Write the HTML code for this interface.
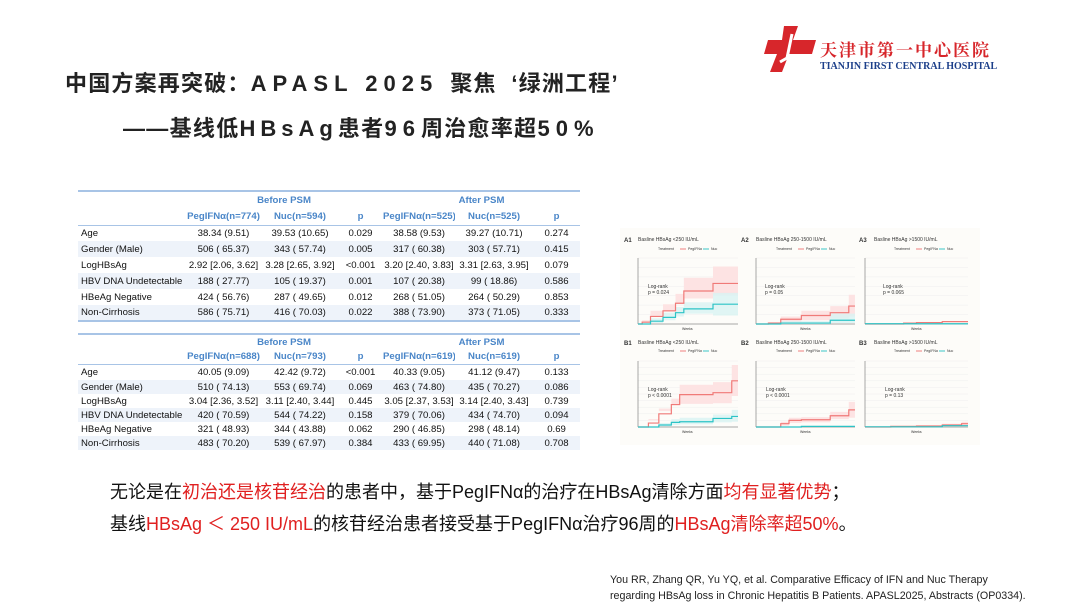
<!DOCTYPE html>
<html><head><meta charset="utf-8"><style>
*{margin:0;padding:0;box-sizing:border-box}
body{width:1080px;height:608px;background:#fff;position:relative;overflow:hidden;font-family:"Liberation Sans","Noto Sans CJK SC",sans-serif;color:#222}
.a{position:absolute;white-space:nowrap}
table{position:absolute;border-collapse:collapse;font-size:9.6px;color:#111;table-layout:fixed}
td{text-align:center;padding:0;overflow:hidden;white-space:nowrap}
td:first-child{text-align:left;padding-left:3px}
tr.h td{color:#4a86c8;font-weight:bold}
tr.s td{background:#eef3fa}
.l{letter-spacing:5px}
</style></head><body>

<div class="a" style="left:65px;top:66px;font-size:22px;font-weight:bold;letter-spacing:1.2px">中国方案再突破：<span class="l" style="letter-spacing:6px">APASL 2025 </span> 聚焦 &nbsp;‘绿洲工程’</div>
<div class="a" style="left:123px;top:111px;font-size:22px;font-weight:bold;letter-spacing:1.3px">——基线低<span class="l" style="letter-spacing:5px">HBsAg</span>患者<span class="l" style="letter-spacing:6px">96</span>周治愈率超<span class="l" style="letter-spacing:6px">50%</span></div>

<svg class="a" style="left:762px;top:24px" width="58" height="50" viewBox="0 0 58 50">
<path d="M22 2 H36 L31 16 H54 L50 30 H27 L20 48 H8 L15 30 H2 L6 16 H20 Z" fill="#d7262b"/>
<path d="M30 10 L25 34 L18 38" stroke="#fff" stroke-width="3" fill="none"/>
</svg>
<div class="a" style="left:820px;top:36px;font-size:17px;font-weight:bold;color:#d7262b;font-family:'Noto Serif CJK SC',serif;letter-spacing:2px">天津市第一中心医院</div>
<div class="a" style="left:820px;top:61px;font-size:10px;font-weight:bold;color:#1c3f8a;font-family:'Liberation Serif',serif">TIANJIN FIRST CENTRAL HOSPITAL</div>

<table style="left:78px;top:190px;width:502px;border-top:2px solid #a8c4e6;border-bottom:2px solid #a8c4e6">
<colgroup><col style="width:107px"><col style="width:77px"><col style="width:76px"><col style="width:45px"><col style="width:72px"><col style="width:78px"><col style="width:47px"></colgroup>
<tr class="h" style="height:18px"><td></td><td colspan="3">Before PSM</td><td colspan="3">After PSM</td></tr>
<tr class="h" style="height:16px;border-bottom:1px solid #a8c4e6"><td></td><td>PegIFNα(n=774)</td><td>Nuc(n=594)</td><td>p</td><td>PegIFNα(n=525)</td><td>Nuc(n=525)</td><td>p</td></tr>
<tr style="height:16px"><td>Age</td><td>38.34 (9.51)</td><td>39.53 (10.65)</td><td>0.029</td><td>38.58 (9.53)</td><td>39.27 (10.71)</td><td>0.274</td></tr>
<tr class="s" style="height:16px"><td>Gender (Male)</td><td>506 ( 65.37)</td><td>343 ( 57.74)</td><td>0.005</td><td>317 ( 60.38)</td><td>303 ( 57.71)</td><td>0.415</td></tr>
<tr style="height:16px"><td>LogHBsAg</td><td>2.92 [2.06, 3.62]</td><td>3.28 [2.65, 3.92]</td><td>&lt;0.001</td><td>3.20 [2.40, 3.83]</td><td>3.31 [2.63, 3.95]</td><td>0.079</td></tr>
<tr class="s" style="height:16px"><td>HBV DNA Undetectable</td><td>188 ( 27.77)</td><td>105 ( 19.37)</td><td>0.001</td><td>107 ( 20.38)</td><td>99 ( 18.86)</td><td>0.586</td></tr>
<tr style="height:16px"><td>HBeAg Negative</td><td>424 ( 56.76)</td><td>287 ( 49.65)</td><td>0.012</td><td>268 ( 51.05)</td><td>264 ( 50.29)</td><td>0.853</td></tr>
<tr class="s" style="height:16px"><td>Non-Cirrhosis</td><td>586 ( 75.71)</td><td>416 ( 70.03)</td><td>0.022</td><td>388 ( 73.90)</td><td>373 ( 71.05)</td><td>0.333</td></tr>
</table>

<table style="left:78px;top:333px;width:502px;border-top:2px solid #a8c4e6">
<colgroup><col style="width:107px"><col style="width:77px"><col style="width:76px"><col style="width:45px"><col style="width:72px"><col style="width:78px"><col style="width:47px"></colgroup>
<tr class="h" style="height:15px"><td></td><td colspan="3">Before PSM</td><td colspan="3">After PSM</td></tr>
<tr class="h" style="height:15px;border-bottom:1px solid #a8c4e6"><td></td><td>PegIFNα(n=688)</td><td>Nuc(n=793)</td><td>p</td><td>PegIFNα(n=619)</td><td>Nuc(n=619)</td><td>p</td></tr>
<tr style="height:16px"><td>Age</td><td>40.05 (9.09)</td><td>42.42 (9.72)</td><td>&lt;0.001</td><td>40.33 (9.05)</td><td>41.12 (9.47)</td><td>0.133</td></tr>
<tr class="s" style="height:14px"><td>Gender (Male)</td><td>510 ( 74.13)</td><td>553 ( 69.74)</td><td>0.069</td><td>463 ( 74.80)</td><td>435 ( 70.27)</td><td>0.086</td></tr>
<tr style="height:14px"><td>LogHBsAg</td><td>3.04 [2.36, 3.52]</td><td>3.11 [2.40, 3.44]</td><td>0.445</td><td>3.05 [2.37, 3.53]</td><td>3.14 [2.40, 3.43]</td><td>0.739</td></tr>
<tr class="s" style="height:14px"><td>HBV DNA Undetectable</td><td>420 ( 70.59)</td><td>544 ( 74.22)</td><td>0.158</td><td>379 ( 70.06)</td><td>434 ( 74.70)</td><td>0.094</td></tr>
<tr style="height:14px"><td>HBeAg Negative</td><td>321 ( 48.93)</td><td>344 ( 43.88)</td><td>0.062</td><td>290 ( 46.85)</td><td>298 ( 48.14)</td><td>0.69</td></tr>
<tr class="s" style="height:14px"><td>Non-Cirrhosis</td><td>483 ( 70.20)</td><td>539 ( 67.97)</td><td>0.384</td><td>433 ( 69.95)</td><td>440 ( 71.08)</td><td>0.708</td></tr>
</table>

<svg class="a" style="left:0;top:0" width="1080" height="608" font-family="Liberation Sans,sans-serif">
<rect x="620" y="228" width="360" height="217" fill="#fdfcf9"/>
<g stroke="#eeeeee" stroke-width="0.5">
<path d="M638 314.6H738M638 305.1H738M638 295.7H738M638 286.3H738M638 276.9H738M638 267.4H738M638 258H738"/>
<path d="M756 314.6H855M756 305.1H855M756 295.7H855M756 286.3H855M756 276.9H855M756 267.4H855M756 258H855"/>
<path d="M865 314.6H968M865 305.1H968M865 295.7H968M865 286.3H968M865 276.9H968M865 267.4H968M865 258H968"/>
<path d="M638 420.4H738M638 413.8H738M638 407.2H738M638 400.6H738M638 394H738M638 387.4H738M638 380.8H738M638 374.2H738M638 367.6H738M638 361H738"/>
<path d="M756 420.4H855M756 413.8H855M756 407.2H855M756 400.6H855M756 394H855M756 387.4H855M756 380.8H855M756 374.2H855M756 367.6H855M756 361H855"/>
<path d="M865 420.4H968M865 413.8H968M865 407.2H968M865 400.6H968M865 394H968M865 387.4H968M865 380.8H968M865 374.2H968M865 367.6H968M865 361H968"/>
</g>
<g font-size="5" fill="#333">
<text x="624" y="242" font-weight="bold" font-size="6">A1</text><text x="638" y="241">Basline HBsAg &lt;250 IU/mL</text>
<text x="741" y="242" font-weight="bold" font-size="6">A2</text><text x="756" y="241">Basline HBsAg 250-1500 IU/mL</text>
<text x="859" y="242" font-weight="bold" font-size="6">A3</text><text x="874" y="241">Basline HBsAg &gt;1500 IU/mL</text>
<text x="624" y="345" font-weight="bold" font-size="6">B1</text><text x="638" y="344">Basline HBsAg &lt;250 IU/mL</text>
<text x="741" y="345" font-weight="bold" font-size="6">B2</text><text x="756" y="344">Basline HBsAg 250-1500 IU/mL</text>
<text x="859" y="345" font-weight="bold" font-size="6">B3</text><text x="874" y="344">Basline HBsAg &gt;1500 IU/mL</text>
<g font-size="3.5">
<text x="658" y="250">Treatment</text><line x1="680" y1="249" x2="686" y2="249" stroke="#f08080"/><text x="688" y="250">PegIFNα</text><line x1="703" y1="249" x2="709" y2="249" stroke="#3cc6c6"/><text x="711" y="250">Nuc</text>
<text x="776" y="250">Treatment</text><line x1="798" y1="249" x2="804" y2="249" stroke="#f08080"/><text x="806" y="250">PegIFNα</text><line x1="821" y1="249" x2="827" y2="249" stroke="#3cc6c6"/><text x="829" y="250">Nuc</text>
<text x="894" y="250">Treatment</text><line x1="916" y1="249" x2="922" y2="249" stroke="#f08080"/><text x="924" y="250">PegIFNα</text><line x1="939" y1="249" x2="945" y2="249" stroke="#3cc6c6"/><text x="947" y="250">Nuc</text>
<text x="658" y="352">Treatment</text><line x1="680" y1="351" x2="686" y2="351" stroke="#f08080"/><text x="688" y="352">PegIFNα</text><line x1="703" y1="351" x2="709" y2="351" stroke="#3cc6c6"/><text x="711" y="352">Nuc</text>
<text x="776" y="352">Treatment</text><line x1="798" y1="351" x2="804" y2="351" stroke="#f08080"/><text x="806" y="352">PegIFNα</text><line x1="821" y1="351" x2="827" y2="351" stroke="#3cc6c6"/><text x="829" y="352">Nuc</text>
<text x="894" y="352">Treatment</text><line x1="916" y1="351" x2="922" y2="351" stroke="#f08080"/><text x="924" y="352">PegIFNα</text><line x1="939" y1="351" x2="945" y2="351" stroke="#3cc6c6"/><text x="947" y="352">Nuc</text>
<text x="682" y="330">Weeks</text><text x="800" y="330">Weeks</text><text x="911" y="330">Weeks</text>
<text x="682" y="433">Weeks</text><text x="800" y="433">Weeks</text><text x="911" y="433">Weeks</text>
</g>
<g font-size="5">
<text x="648" y="288">Log-rank</text><text x="648" y="294">p = 0.024</text>
<text x="765" y="288">Log-rank</text><text x="765" y="294">p = 0.05</text>
<text x="883" y="288">Log-rank</text><text x="883" y="294">p = 0.065</text>
<text x="648" y="391">Log-rank</text><text x="648" y="397">p &lt; 0.0001</text>
<text x="766" y="391">Log-rank</text><text x="766" y="397">p &lt; 0.0001</text>
<text x="885" y="391">Log-rank</text><text x="885" y="397">p = 0.13</text>
</g>
</g>
<g fill="none" stroke="#555" stroke-width="0.5">
<path d="M638 258V324H738"/><path d="M756 258V324H855"/><path d="M865 258V324H968"/>
<path d="M638 361V427H738"/><path d="M756 361V427H855"/><path d="M865 361V427H968"/>
</g>
<g transform="translate(638,324) scale(1.0417,-0.943)">
<path d="M0 0H4V4H12V14H24V21H36V32H44V49H72V61H96V31H72V27H44V22H36V13H24V8H12V3H4V0Z" fill="#fde3e3"/>
<path d="M12 0V6H24V12H36V18H44V23H72V33H96V9H72V11H44V8H36V4H24V1H12Z" fill="#d8f3f3" opacity="0.8"/>
<path d="M0 0H4V2H12V8H24V14H36V22H44V35H72V43H96" fill="none" stroke="#f07a78" stroke-width="1.2" vector-effect="non-scaling-stroke"/>
<path d="M0 0H12V3H24V7H36V12H44V16H72V21H96" fill="none" stroke="#2cc3c6" stroke-width="1.2" vector-effect="non-scaling-stroke"/>
</g>
<g transform="translate(756,324) scale(1.031,-0.943)">
<path d="M12 0V2H24V8H44V14H72V19H90V31H96V8H90V6H72V4H44V2H24V0Z" fill="#fde3e3"/>
<path d="M24 0V3H72V11H96V1H72V0Z" fill="#d8f3f3" opacity="0.8"/>
<path d="M0 0H12V1H24V5H44V9H72V12H90V19H96" fill="none" stroke="#f07a78" stroke-width="1.2" vector-effect="non-scaling-stroke"/>
<path d="M0 0H24V1H72V4H96" fill="none" stroke="#2cc3c6" stroke-width="1.2" vector-effect="non-scaling-stroke"/>
</g>
<g transform="translate(865,324) scale(1.073,-0.943)">
<path d="M0 0H36V1H48V1.5H72V2.5H96" fill="none" stroke="#f07a78" stroke-width="1.2" vector-effect="non-scaling-stroke"/>
<path d="M0 0.3H96" fill="none" stroke="#2cc3c6" stroke-width="1.2" vector-effect="non-scaling-stroke"/>
</g>
<g transform="translate(638,427) scale(1.0417,-0.66)">
<path d="M10 0V10H20V28H32V43H40V64H72V68H90V94H96V47H90V36H72V35H40V33H32V24H20V12H10V2Z" fill="#fde3e3"/>
<path d="M20 0V6H32V12H40V14H72V19H90V26H96V8H90V7H72V4H40V3H32V1H20Z" fill="#d8f3f3" opacity="0.8"/>
<path d="M0 0H10V6H20V20H32V34H40V49H72V52H90V70H96" fill="none" stroke="#f07a78" stroke-width="1.2" vector-effect="non-scaling-stroke"/>
<path d="M0 0H20V3H32V7H40V8H72V13H90V16H96" fill="none" stroke="#2cc3c6" stroke-width="1.2" vector-effect="non-scaling-stroke"/>
</g>
<g transform="translate(756,427) scale(1.031,-0.66)">
<path d="M24 0V8H32V14H44V15H72V23H90V38H96V14H90V12H72V7H44V6H32V2H24Z" fill="#fde3e3"/>
<path d="M0 0H24V5H32V10H44V11H72V17H90V26H96" fill="none" stroke="#f07a78" stroke-width="1.2" vector-effect="non-scaling-stroke"/>
<path d="M0 0H44V1H96" fill="none" stroke="#2cc3c6" stroke-width="1.2" vector-effect="non-scaling-stroke"/>
</g>
<g transform="translate(865,427) scale(1.073,-0.66)">
<path d="M72 0V5H90V8H96V2H72Z" fill="#fde3e3"/>
<path d="M0 0H24V1H48V1.5H72V3H90V5H96" fill="none" stroke="#f07a78" stroke-width="1.2" vector-effect="non-scaling-stroke"/>
<path d="M0 0.3H72V2H96" fill="none" stroke="#2cc3c6" stroke-width="1.2" vector-effect="non-scaling-stroke"/>
</g>
</svg>

<div class="a" style="left:110px;top:478px;font-size:18px;color:#111">无论是在<span style="color:#e02020">初治还是核苷经治</span>的患者中，基于PegIFNα的治疗在HBsAg清除方面<span style="color:#e02020">均有显著优势</span>；</div>
<div class="a" style="left:110px;top:510px;font-size:18px;color:#111">基线<span style="color:#e02020">HBsAg ＜ 250 IU/mL</span>的核苷经治患者接受基于PegIFNα治疗96周的<span style="color:#e02020">HBsAg清除率超50%</span>。</div>

<div class="a" style="left:610px;top:572px;font-size:10.7px;color:#222;line-height:16px">You RR, Zhang QR, Yu YQ, et al. Comparative Efficacy of IFN and Nuc Therapy<br>regarding HBsAg loss in Chronic Hepatitis B Patients. APASL2025, Abstracts (OP0334).</div>
</body></html>
